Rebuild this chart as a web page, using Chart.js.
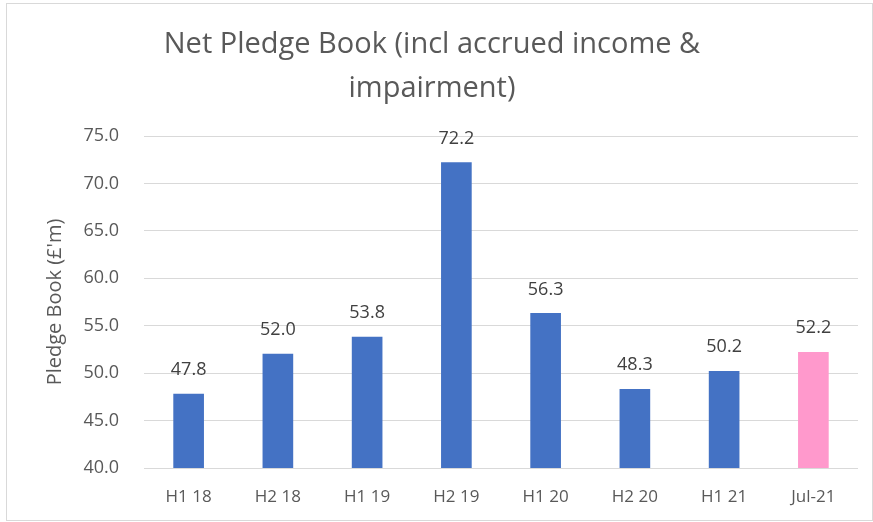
<!DOCTYPE html>
<html>
<head>
<meta charset="utf-8">
<script src="https://cdn.jsdelivr.net/npm/chart.js@4.4.0/dist/chart.umd.min.js"></script>
<style>
  body { margin: 0; background: #fff; }
  #wrap { width: 873px; height: 522px; }
</style>
</head>
<body>
<div id="wrap"><canvas id="pledgeChart" width="873" height="522"></canvas></div>
<script>
const categories = ['H1 18', 'H2 18', 'H1 19', 'H2 19', 'H1 20', 'H2 20', 'H1 21', 'Jul-21'];
const pledgeBook = [47.8, 52.0, 53.8, 72.2, 56.3, 48.3, 50.2, 52.2];
const barColours = ['#4472C4', '#4472C4', '#4472C4', '#4472C4', '#4472C4', '#4472C4', '#4472C4', '#FF99CC'];
const titleLines = ['Net Pledge Book (incl accrued income &', 'impairment)'];
const yTitle = "Pledge Book (£'m)";

const FONT = "'Open Sans', 'Noto Sans', sans-serif";
const GREY = '#595959';

// frame round the chart + value labels above bars
const extras = {
  id: 'extras',
  beforeDraw(chart) {
    const ctx = chart.ctx;
    ctx.save();
    ctx.strokeStyle = '#D9D9D9';
    ctx.lineWidth = 1;
    ctx.strokeRect(6.5, 3.5, 866, 517);
    ctx.restore();
  },
  afterDatasetsDraw(chart) {
    const ctx = chart.ctx;
    const meta = chart.getDatasetMeta(0);
    ctx.save();
    ctx.font = '18px ' + FONT;
    ctx.fillStyle = '#404040';
    ctx.textAlign = 'center';
    ctx.textBaseline = 'middle';
    meta.data.forEach((bar, i) => {
      ctx.fillText(pledgeBook[i].toFixed(1), bar.x, bar.y - 24);
    });
    ctx.restore();
  }
};

new Chart(document.getElementById('pledgeChart'), {
  type: 'bar',
  data: {
    labels: categories,
    datasets: [{
      data: pledgeBook,
      backgroundColor: barColours,
      borderWidth: 0,
      barThickness: 30
    }]
  },
  options: {
    responsive: false,
    devicePixelRatio: 1,
    animation: false,
    layout: { padding: { left: 6, right: 15, top: 0, bottom: 0 } },
    plugins: {
      legend: { display: false },
      tooltip: { enabled: false },
      title: {
        display: true,
        text: titleLines,
        color: GREY,
        font: { family: FONT, size: 29, weight: 'normal', lineHeight: 1.5 },
        padding: { top: 23, bottom: 26 }
      }
    },
    scales: {
      x: {
        grid: { display: false, drawTicks: false },
        border: { display: false },
        ticks: { color: GREY, font: { family: FONT, size: 17 }, padding: 19 },
        afterFit(scale) { scale.height = 54; }
      },
      y: {
        min: 40,
        max: 75,
        grid: { color: '#D9D9D9', drawTicks: false },
        border: { display: false },
        ticks: {
          stepSize: 5,
          color: GREY,
          font: { family: FONT, size: 18 },
          padding: 25,
          callback: v => v.toFixed(1)
        },
        title: {
          display: true,
          text: yTitle,
          color: GREY,
          font: { family: FONT, size: 20 },
          padding: { top: 37, bottom: 0 }
        },
        afterFit(scale) { scale.width = 138; }
      }
    }
  },
  plugins: [extras]
});
</script>
</body>
</html>
